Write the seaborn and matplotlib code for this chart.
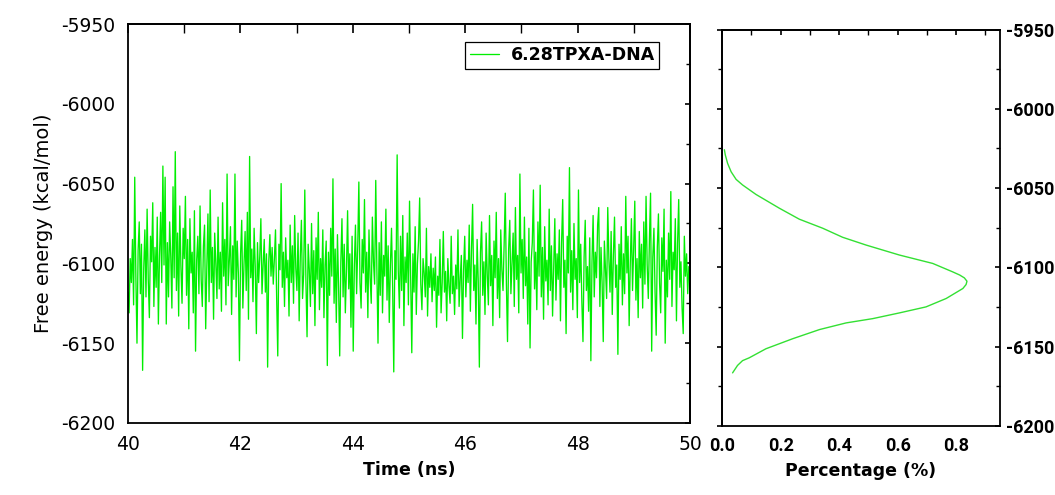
import numpy as np
import pandas as pd
import matplotlib
matplotlib.use('Agg')
import matplotlib.pyplot as plt
import seaborn as sns
from matplotlib.ticker import MultipleLocator

# ---------------- data ----------------
series_label = '6.28TPXA-DNA'

energy = [
    -6118, -6131, -6097, -6112, -6085, -6126, -6046, -6108, -6150, -6092,
    -6074, -6119, -6088, -6167, -6103, -6079, -6121, -6066, -6110, -6134,
    -6083, -6099, -6062, -6127, -6090, -6115, -6071, -6138, -6095, -6068,
    -6112, -6039, -6101, -6046, -6138, -6087, -6121, -6074, -6096, -6128,
    -6052, -6109, -6030, -6117, -6081, -6133, -6064, -6102, -6125, -6078,
    -6097, -6058, -6120, -6085, -6141, -6072, -6106, -6093, -6131, -6067,
    -6155, -6098, -6083, -6119, -6064, -6110, -6127, -6089, -6076, -6141,
    -6103, -6069, -6124, -6054, -6112, -6090, -6135, -6081, -6100, -6122,
    -6071, -6116, -6093, -6130, -6062, -6108, -6085, -6126, -6044, -6114,
    -6098, -6077, -6132, -6089, -6110, -6044, -6121, -6086, -6106, -6161,
    -6094, -6073, -6128, -6101, -6080, -6117, -6068, -6135, -6033, -6109,
    -6091, -6124, -6078, -6102, -6144, -6087, -6112, -6096, -6072, -6119,
    -6101, -6085, -6118, -6094, -6165, -6099, -6082, -6108, -6090, -6113,
    -6097, -6079, -6121, -6158, -6088, -6104, -6050, -6115, -6093, -6127,
    -6084, -6109, -6098, -6133, -6076, -6112, -6089, -6125, -6070, -6103,
    -6117, -6081, -6136, -6096, -6073, -6122, -6107, -6054, -6111, -6146,
    -6088, -6104, -6127, -6075, -6119, -6092, -6139, -6084, -6110, -6068,
    -6129, -6097, -6115, -6079, -6134, -6101, -6086, -6164, -6093, -6120,
    -6078, -6108, -6047, -6125, -6091, -6137, -6082, -6114, -6158, -6099,
    -6072, -6121, -6088, -6131, -6104, -6067, -6116, -6094, -6140, -6083,
    -6155, -6101, -6076, -6119, -6090, -6049, -6112, -6128, -6085, -6106,
    -6060, -6118, -6093, -6134, -6079, -6109, -6125, -6071, -6099, -6113,
    -6048, -6104, -6150, -6087, -6120, -6074, -6131, -6095, -6108, -6066,
    -6123, -6089, -6137, -6101, -6078, -6115, -6168, -6092, -6110, -6032,
    -6105, -6128, -6083, -6117, -6070, -6139, -6096, -6112, -6081, -6126,
    -6061, -6109, -6156, -6094, -6118, -6077, -6132, -6100, -6086, -6059,
    -6113, -6129, -6097, -6106, -6121, -6078, -6133, -6102, -6115, -6094,
    -6124, -6103, -6117, -6096, -6140, -6108, -6120, -6085, -6131, -6112,
    -6080, -6118, -6105, -6136, -6097, -6114, -6125, -6083, -6119, -6108,
    -6132, -6101, -6116, -6079, -6127, -6110, -6095, -6147, -6104, -6083,
    -6121, -6098, -6112, -6076, -6130, -6092, -6063, -6117, -6101, -6138,
    -6085, -6111, -6165, -6093, -6074, -6120, -6099, -6132, -6081, -6107,
    -6126, -6070, -6114, -6095, -6139, -6086, -6109, -6068, -6122, -6097,
    -6134, -6079, -6104, -6117, -6088, -6056, -6113, -6149, -6091, -6073,
    -6119, -6100, -6081, -6127, -6065, -6110, -6095, -6131, -6044, -6106,
    -6085, -6122, -6071, -6114, -6096, -6138, -6078, -6153, -6099, -6087,
    -6054, -6116, -6093, -6129, -6074, -6108, -6051, -6121, -6090, -6135,
    -6077, -6111, -6098, -6126, -6066, -6117, -6089, -6133, -6101, -6072,
    -6123, -6094, -6110, -6079, -6136, -6087, -6060, -6115, -6098, -6144,
    -6083, -6106, -6040, -6118, -6092, -6129, -6075, -6110, -6097, -6134,
    -6054, -6112, -6088, -6124, -6149, -6096, -6073, -6117, -6102, -6130,
    -6084, -6161, -6099, -6070, -6121, -6093, -6109, -6076, -6065, -6127,
    -6090, -6113, -6149, -6086, -6104, -6122, -6065, -6097, -6118, -6080,
    -6132, -6095, -6071, -6115, -6101, -6157, -6088, -6110, -6077, -6126,
    -6094, -6119, -6058, -6106, -6083, -6139, -6100, -6072, -6117, -6091,
    -6061, -6123, -6097, -6134, -6080, -6109, -6088, -6128, -6074, -6113,
    -6058, -6101, -6122, -6085, -6056, -6155, -6096, -6078, -6118, -6145,
    -6090, -6069, -6112, -6131, -6084, -6105, -6066, -6150, -6098, -6121,
    -6081, -6110, -6055, -6127, -6093, -6104, -6072, -6136, -6087, -6060,
    -6115, -6099, -6128, -6144, -6083, -6108, -6094, -6119, -6102, -6112,
]

dist_pct = [0.008, 0.011, 0.019, 0.031, 0.048, 0.070, 0.116, 0.196, 0.264,
            0.344, 0.412, 0.492, 0.606, 0.720, 0.788, 0.812, 0.828, 0.837,
            0.834, 0.823, 0.766, 0.697, 0.606, 0.515, 0.424, 0.333, 0.241,
            0.150, 0.093, 0.070, 0.053, 0.036]
dist_energy = [-6025.8, -6029.0, -6034.4, -6039.7, -6044.5, -6048.0, -6054.0,
               -6062.7, -6069.6, -6075.3, -6081.0, -6085.9, -6092.2, -6097.5,
               -6102.8, -6104.8, -6106.6, -6108.7, -6110.8, -6113.3, -6119.6,
               -6124.9, -6128.7, -6132.3, -6135.0, -6139.2, -6145.0, -6151.3,
               -6157.0, -6158.8, -6161.8, -6166.5]

time_ticks = [40, 42, 44, 46, 48, 50]
energy_ticks = [-5950, -6000, -6050, -6100, -6150, -6200]
pct_ticks = [0.0, 0.2, 0.4, 0.6, 0.8]

# ---------------- style ----------------
sns.set_theme(style='white')
plt.rcParams['font.family'] = ['DejaVu Sans']
plt.rcParams['axes.edgecolor'] = 'black'
plt.rcParams['axes.linewidth'] = 1.3
plt.rcParams['xtick.color'] = 'black'
plt.rcParams['ytick.color'] = 'black'
plt.rcParams['text.color'] = 'black'
plt.rcParams['axes.labelcolor'] = 'black'
plt.rcParams['xtick.labelcolor'] = 'black'
plt.rcParams['ytick.labelcolor'] = 'black'

GREEN = '#00ee00'
GREEN2 = '#33e033'
RIGHT_FONT = ['Roboto', 'DejaVu Sans']

fig = plt.figure(figsize=(10.55, 4.95), dpi=100)
ax1 = fig.add_axes([0.1213, 0.1455, 0.5327, 0.806])
ax2 = fig.add_axes([0.6844, 0.1394, 0.2635, 0.801])

# ---------------- left panel: time series ----------------
time = np.linspace(40, 50, len(energy))
df = pd.DataFrame({'time': time, 'energy': energy})
sns.lineplot(data=df, x='time', y='energy', ax=ax1, color=GREEN, lw=0.95,
             estimator=None, sort=False, label=series_label)

ax1.set_xlim(40, 50)
ax1.set_ylim(-6200, -5950)
ax1.set_xticks(time_ticks)
ax1.set_yticks(energy_ticks)
ax1.set_xticklabels([str(t) for t in time_ticks])
ax1.set_yticklabels([str(t) for t in energy_ticks])
ax1.xaxis.set_minor_locator(MultipleLocator(1))
ax1.yaxis.set_minor_locator(MultipleLocator(25))
ax1.tick_params(axis='both', which='major', direction='out', length=7, width=1.2,
                labelsize=13.5, top=False, right=False, pad=2)
ax1.tick_params(axis='both', which='minor', direction='out', length=4, width=1.0,
                top=False, right=False)
ax1.set_xlabel('Time (ns)', fontsize=12.5, fontweight='bold', labelpad=5)
ax1.set_ylabel('Free energy (kcal/mol)', fontsize=14, labelpad=6)

sx1 = ax1.secondary_xaxis('top')
sx1.set_xticks(time_ticks)
sx1.xaxis.set_minor_locator(MultipleLocator(1))
sx1.tick_params(axis='x', which='major', direction='in', length=6.5, width=1.2, labeltop=False)
sx1.tick_params(axis='x', which='minor', direction='in', length=6.5, width=1.0)
sy1 = ax1.secondary_yaxis('right')
sy1.set_yticks(energy_ticks)
sy1.yaxis.set_minor_locator(MultipleLocator(25))
sy1.tick_params(axis='y', which='major', direction='in', length=3.5, width=1.2, labelright=False)
sy1.tick_params(axis='y', which='minor', direction='in', length=3, width=1.0)

leg = ax1.legend(loc='upper right', bbox_to_anchor=(0.945, 0.955), borderaxespad=0,
                 frameon=True, fancybox=False, edgecolor='black', framealpha=1,
                 handlelength=1.7, handletextpad=0.65, borderpad=0.25,
                 labelcolor='black',
                 prop={'weight': 'bold', 'size': 12.5, 'family': 'DejaVu Sans'})
leg.get_frame().set_linewidth(0.9)

# ---------------- right panel: distribution ----------------
ddf = pd.DataFrame({'pct': dist_pct, 'energy': dist_energy})
sns.lineplot(data=ddf, x='pct', y='energy', ax=ax2, color=GREEN2, lw=1.0,
             estimator=None, sort=False)
ax2.set_xlim(0, 0.95)
ax2.set_ylim(-6200, -5950)
ax2.set_xticks(pct_ticks)
ax2.set_xticklabels([f'{p:.1f}' for p in pct_ticks])
ax2.set_yticks(energy_ticks)
ax2.set_yticklabels([str(t) for t in energy_ticks])
ax2.xaxis.set_minor_locator(MultipleLocator(0.1))
ax2.yaxis.set_minor_locator(MultipleLocator(25))
ax2.yaxis.tick_right()
ax2.tick_params(axis='x', which='major', direction='out', length=5, width=1.2,
                labelsize=13, top=False, pad=3)
ax2.tick_params(axis='x', which='minor', direction='out', length=3.5, width=1.0, top=False)
ax2.tick_params(axis='y', which='major', direction='in', length=3.5, width=1.2,
                labelsize=13, left=False, right=True, labelleft=False,
                labelright=True, pad=4)
ax2.tick_params(axis='y', which='minor', direction='in', length=3, width=1.0,
                left=False, right=True)
for lab in ax2.get_xticklabels() + ax2.get_yticklabels():
    lab.set_fontweight('bold')
    lab.set_family(RIGHT_FONT)
ax2.set_xlabel('Percentage (%)', fontsize=12.5, fontweight='bold', labelpad=5)
ax2.set_ylabel('')

sx2 = ax2.secondary_xaxis('top')
sx2.set_xticks(pct_ticks)
sx2.xaxis.set_minor_locator(MultipleLocator(0.1))
sx2.tick_params(axis='x', which='major', direction='in', length=3.5, width=1.2, labeltop=False)
sx2.tick_params(axis='x', which='minor', direction='in', length=3.5, width=1.0)
sy2 = ax2.secondary_yaxis('left')
sy2.set_yticks(energy_ticks)
sy2.yaxis.set_minor_locator(MultipleLocator(25))
sy2.tick_params(axis='y', which='major', direction='out', length=3.5, width=1.2, labelleft=False)
sy2.tick_params(axis='y', which='minor', direction='out', length=3, width=1.0)

fig.savefig('out.png', dpi=100)
